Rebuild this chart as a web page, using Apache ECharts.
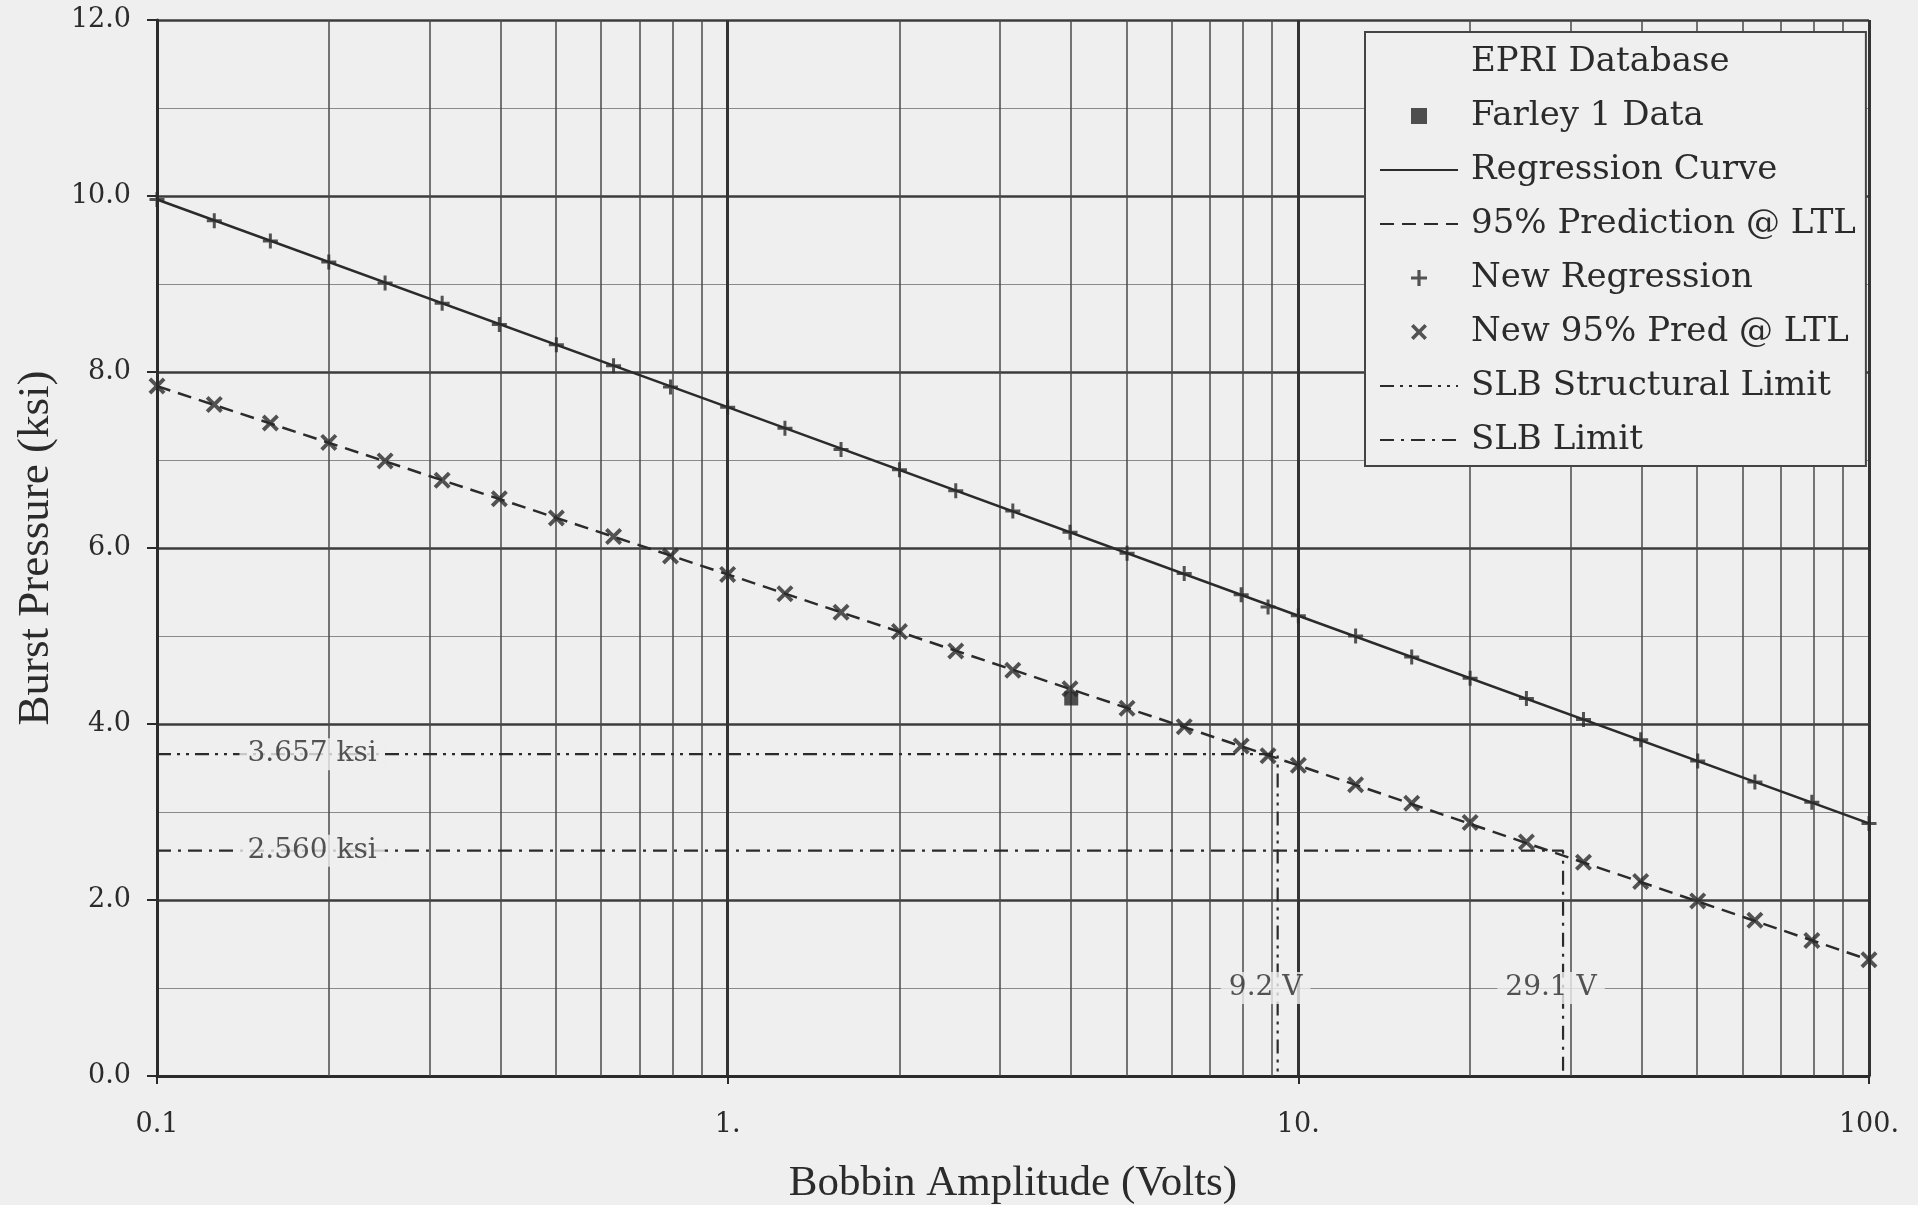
<!DOCTYPE html>
<html><head><meta charset="utf-8">
<script src="https://cdn.jsdelivr.net/npm/echarts@6/dist/echarts.min.js"></script>
<style>html,body{margin:0;padding:0;background:#efefef;}#c{width:1918px;height:1205px;}</style>
</head><body><div id="c"></div>
<script>
// ---- data ----
const volts = [0.1,0.126,0.158,0.2,0.251,0.316,0.398,0.501,0.631,0.794,1,1.26,1.58,2,2.51,3.16,3.98,5.01,6.31,7.94,8.85,10,12.6,15.8,20,25.1,31.6,39.8,50.1,63.1,79.4,100];
const newRegression = [9.96,9.72,9.49,9.25,9.01,8.78,8.54,8.31,8.07,7.83,7.60,7.36,7.12,6.89,6.65,6.42,6.18,5.94,5.71,5.47,5.33,5.23,5.00,4.76,4.52,4.29,4.05,3.82,3.58,3.34,3.11,2.87];
const newPred95 = [7.84,7.63,7.42,7.20,6.99,6.77,6.56,6.34,6.13,5.91,5.70,5.48,5.27,5.05,4.83,4.61,4.40,4.18,3.97,3.75,3.64,3.53,3.31,3.10,2.88,2.66,2.43,2.21,1.99,1.77,1.54,1.32];
const regCurveX = [0.1,1,10,100];
const regCurveY = [9.96,7.60,5.23,2.87];
const predCurveX = [0.1,1,10,100];
const predCurveY = [7.84,5.70,3.53,1.32];
const farleyX = [4.0];
const farleyY = [4.29];
const slbStructKsi = 3.657, slbStructVolts = 9.2;
const slbKsi = 2.560, slbVolts = 29.1;
const annotX = [0.187, 0.187, slbStructVolts, slbVolts];
const annotY = [slbStructKsi, slbKsi, 1.0, 1.0];
const annotText = ['3.657 ksi', '2.560 ksi', '9.2 V', '29.1 V'];
const minorGridVolts = [0.2,0.3,0.4,0.5,0.6,0.7,0.8,0.9,2,3,4,5,6,7,8,9,20,30,40,50,60,70,80,90];
const xTickLabels = {'-1':'0.1','0':'1.','1':'10.','2':'100.'};
const legendNames = ['EPRI Database','Farley 1 Data','Regression Curve','95% Prediction @ LTL','New Regression','New 95% Pred @ LTL','SLB Structural Limit','SLB Limit'];
const lineLegendNames = ['Regression Curve','95% Prediction @ LTL','SLB Structural Limit','SLB Limit'];

// ---- chart ----
const INK = '#2b2b2b';
const BG = '#efefef';
const SERIF = 'DejaVu Serif';
const plusPath = 'path://M4,0H6V4H10V6H6V10H4V6H0V4H4Z';
const crossPath = 'path://M0,1.6L1.6,0L5,3.4L8.4,0L10,1.6L6.6,5L10,8.4L8.4,10L5,6.6L1.6,10L0,8.4L3.4,5Z';
const squarePath = 'path://M0,0H10V10H0Z';
const zip = (xs, ys) => xs.map((x, i) => [x, ys[i]]);

const chart = echarts.init(document.getElementById('c'), null, {renderer: 'canvas'});
chart.setOption({
  animation: false,
  backgroundColor: BG,
  color: [INK],
  textStyle: {fontFamily: SERIF, color: INK},
  grid: {left: 157, right: 49, top: 20, bottom: 129, containLabel: false, outerBoundsMode: 'none'},
  xAxis: {
    type: 'log', logBase: 10, min: 0.1, max: 100,
    name: 'Bobbin Amplitude (Volts)', nameLocation: 'middle', nameGap: 86,
    nameTextStyle: {fontFamily: 'Liberation Serif', fontSize: 43, color: INK},
    axisLine: {show: true, onZero: false, lineStyle: {color: INK, width: 3}},
    axisTick: {show: true, length: 8, lineStyle: {color: INK, width: 2}},
    axisLabel: {formatter: v => xTickLabels[String(Math.round(Math.log10(v)))], fontFamily: SERIF, fontSize: 27, color: INK, margin: 35},
    splitLine: {show: true, lineStyle: {color: '#333', width: 3}},
    minorTick: {show: false}, minorSplitLine: {show: false}
  },
  yAxis: {
    type: 'value', min: 0, max: 12, interval: 2,
    name: 'Burst Pressure (ksi)', nameLocation: 'middle', nameGap: 98,
    nameTextStyle: {fontFamily: 'Liberation Serif', fontSize: 45, color: INK},
    axisLine: {show: true, onZero: false, lineStyle: {color: INK, width: 3}},
    axisTick: {show: true, length: 10, lineStyle: {color: INK, width: 2}},
    axisLabel: {formatter: v => v.toFixed(1), fontFamily: SERIF, fontSize: 27, color: INK, margin: 26},
    splitLine: {show: true, lineStyle: {color: '#3c3c3c', width: 2.5}},
    minorTick: {show: false, splitNumber: 2},
    minorSplitLine: {show: true, lineStyle: {color: '#8a8a8a', width: 1.2}}
  },
  legend: {
    orient: 'vertical', left: 1365, top: 32,
    data: legendNames.map(n => {
      if (n === 'EPRI Database') return {name: n, itemStyle: {opacity: 0}};
      if (lineLegendNames.indexOf(n) >= 0) return {name: n, itemStyle: {opacity: 0, color: 'transparent', borderWidth: 0}};
      return {name: n};
    }),
    itemWidth: 78, itemHeight: 16, itemGap: 14,
    padding: [10, 10, 6, 14],
    backgroundColor: BG, borderColor: '#444', borderWidth: 2,
    selectedMode: false,
    textStyle: {fontFamily: SERIF, fontSize: 34, color: INK, lineHeight: 40, padding: [0, 0, 0, 8]}
  },
  series: [
    {name: '_grid', type: 'line', data: [], silent: true, z: 1,
     markLine: {silent: true, z: 1, symbol: ['none', 'none'], label: {show: false},
       lineStyle: {color: '#4a4a4a', width: 1.5, type: 'solid'},
       data: minorGridVolts.map(v => ({xAxis: v}))}},
    {name: 'EPRI Database', type: 'scatter', data: []},
    {name: 'Farley 1 Data', type: 'scatter', symbol: squarePath, symbolSize: 14, z: 4,
     itemStyle: {color: '#262626'}, data: zip(farleyX, farleyY)},
    {name: 'Regression Curve', type: 'line', symbol: 'none', showSymbol: false, z: 3,
     lineStyle: {color: INK, width: 2.5, type: 'solid'}, data: zip(regCurveX, regCurveY)},
    {name: '95% Prediction @ LTL', type: 'line', symbol: 'none', showSymbol: false, z: 3,
     lineStyle: {color: INK, width: 2.5, type: [14, 8]}, data: zip(predCurveX, predCurveY)},
    {name: 'New Regression', type: 'scatter', symbol: plusPath, symbolSize: 15, z: 4,
     itemStyle: {color: INK}, data: zip(volts, newRegression)},
    {name: 'New 95% Pred @ LTL', type: 'scatter', symbol: crossPath, symbolSize: 17, z: 4,
     itemStyle: {color: INK}, data: zip(volts, newPred95)},
    {name: 'SLB Structural Limit', type: 'line', symbol: 'none', showSymbol: false, z: 3,
     lineStyle: {color: INK, width: 2.2, type: [14, 6, 3, 6, 3, 6]},
     data: [[0.1, slbStructKsi], [slbStructVolts, slbStructKsi], [slbStructVolts, 0]]},
    {name: 'SLB Limit', type: 'line', symbol: 'none', showSymbol: false, z: 3,
     lineStyle: {color: INK, width: 2.2, type: [14, 7, 3, 7]},
     data: [[0.1, slbKsi], [slbVolts, slbKsi], [slbVolts, 0]]},
    {name: '_annot', type: 'scatter', symbolSize: 1, z: 6, silent: true,
     itemStyle: {color: 'transparent'},
     label: {show: true, position: 'inside', fontFamily: SERIF, fontSize: 28, color: INK,
             backgroundColor: BG, padding: [2, 8]},
     data: annotX.map((x, i) => ({value: [x, annotY[i]],
       label: {formatter: annotText[i], offset: i >= 2 ? [-12, 0] : [0, 0]}}))}
  ]
});
</script></body></html>
